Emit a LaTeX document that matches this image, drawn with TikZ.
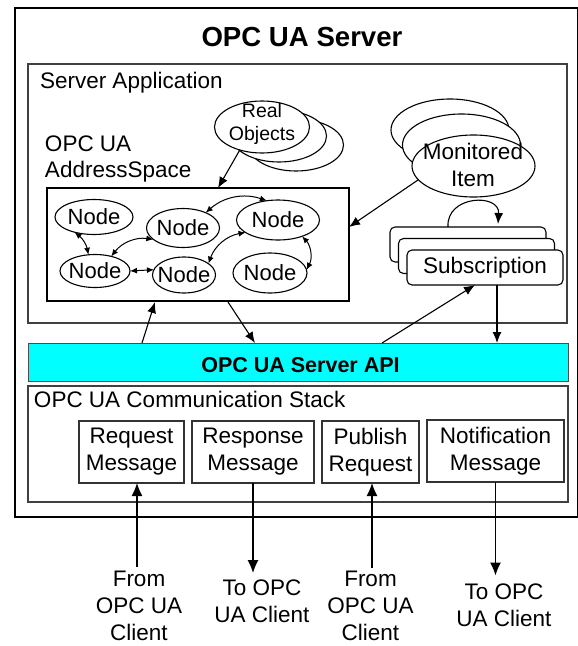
\documentclass[tikz,border=0pt]{standalone}
\usepackage{fontspec}
\setmainfont{Liberation Sans}
\usetikzlibrary{arrows.meta,shapes.geometric,calc}
\definecolor{apicyan}{RGB}{0,255,255}
\begin{document}
\begin{tikzpicture}[x=1pt,y=-1pt,
  every node/.style={inner sep=0pt, outer sep=0pt},
  lbl/.style={font=\fontsize{22.5}{27}\selectfont, align=center},
  box/.style={draw=black, line width=1.2pt},
  gbox/.style={draw=black!75, line width=1.2pt},
  mbox/.style={draw=black!80, line width=1.5pt, lbl},
  nd/.style={ellipse, draw, line width=1.1pt, fill=white, inner xsep=-30pt, font=\fontsize{22}{26}\selectfont},
  ell/.style={ellipse, draw, line width=1.1pt, fill=white},
  rbox/.style={draw, line width=1.1pt, fill=white, rounded corners=5pt},
  arr/.style={-{Latex[length=11pt,width=9pt]}, line width=1.1pt},
  darr/.style={{Latex[length=7pt,width=6pt]}-{Latex[length=7pt,width=6pt]}, line width=1pt},
  barr/.style={-{Latex[length=13pt,width=11pt]}, line width=1.3pt}]
\useasboundingbox (0,0) rectangle (578,646);
\fill[white] (0,0) rectangle (578,646);

% outer server box
\node[box, line width=2.2pt, minimum width=563pt, minimum height=509pt] (outer) at (296.5,262.5) {};
\node[font=\bfseries\fontsize{27.6}{32}\selectfont, anchor=base] (title) at (302,46) {OPC UA Server};

% server application
\node[gbox, minimum width=539pt, minimum height=259pt] (app) at (297.5,193.5) {};
\node[lbl, anchor=base west] (applbl) at (40,88) {Server Application};

% address space
\node[font=\fontsize{22.5}{26}\selectfont, align=left, anchor=west] (aslbl) at (45,159.4) {OPC UA\\AddressSpace};
\node[box, minimum width=302pt, minimum height=113pt] (as) at (198,244.5) {};

\node[nd, minimum width=78pt, minimum height=35pt] (n1) at (94,217) {Node};
\node[nd, minimum width=73pt, minimum height=39pt] (n2) at (183,228) {Node};
\node[nd, minimum width=83pt, minimum height=40pt] (n3) at (278,220) {Node};
\node[nd, minimum width=70pt, minimum height=33pt] (n4) at (95,271) {Node};
\node[nd, minimum width=63pt, minimum height=36pt] (n5) at (184,275) {Node};
\node[nd, minimum width=74pt, minimum height=40pt] (n6) at (270,273) {Node};

\draw[darr] (n1.218) to[bend left=20] (n4.112);
\draw[darr] (n4.42) to[bend left=30] (n2.201);
\draw[darr] (n4.east) -- (n5.170);
\draw[darr] (n2.34) to[bend left=30] (n3.120);
\draw[darr] (n5.25) to[bend left=30] (n3.201);
\draw[darr] (n3.326) to[bend left=35] (n6.5);

% real objects
\node[ell, minimum width=95pt, minimum height=52pt] (ro3) at (296,145) {};
\node[ell, minimum width=95pt, minimum height=52pt] (ro2) at (279,136) {};
\node[ell, minimum width=95pt, minimum height=52pt] (ro) at (262,127) {};
\node[font=\fontsize{19.5}{23}\selectfont, align=center] (rolbl) at (262,123.5) {Real\\Objects};
\coordinate (asin1) at (218,188);
\draw[arr] (ro.226) -- (asin1);

% monitored item
\node[ell, minimum width=118pt, minimum height=62pt] (mi3) at (450,130) {};
\node[ell, minimum width=118pt, minimum height=62pt] (mi2) at (461.5,145) {};
\node[ell, minimum width=123pt, minimum height=62pt] (mi) at (473.5,166) {};
\node[lbl] (milbl) at (473,165) {Monitored\\Item};
\coordinate (asin2) at (349,227);
\draw[arr] (mi.194) -- (asin2);

% subscription
\node[rbox, minimum width=156pt, minimum height=35pt] (s3) at (468,244.5) {};
\node[rbox, minimum width=156pt, minimum height=35pt] (s2) at (476.5,256) {};
\node[rbox, minimum width=156pt, minimum height=35pt, lbl] (s) at (485,267.5) {Subscription};
\coordinate (lpa) at (448,227);
\coordinate (lpb) at (498,224);
\draw[arr] (lpa) .. controls (446,195) and (500,193) .. (lpb);

% server API
\node[fill=apicyan, draw=black!70, line width=1pt, minimum width=540pt, minimum height=38pt] (api) at (298,362) {};
\node[font=\bfseries\fontsize{21.5}{26}\selectfont, anchor=base] (apilbl) at (300.5,372.3) {OPC UA Server API};

\coordinate (p1) at (142,343);
\coordinate (q1) at (155,302);
\coordinate (p2) at (228,302);
\coordinate (q2) at (255,343);
\coordinate (p3) at (382,343);
\draw[arr] (p1) -- (q1);
\draw[arr] (p2) -- (q2);
\draw[arr] (p3) -- ([xshift=-10pt]s.south);
\draw[arr] ([xshift=12pt]s.south) -- ([xshift=12pt]s.south |- api.north);

% communication stack
\node[gbox, minimum width=540pt, minimum height=116pt] (comm) at (298,444) {};
\node[lbl, anchor=base west] (commlbl) at (34,407) {OPC UA Communication Stack};

\node[mbox, minimum width=105pt, minimum height=62pt] (req) at (131.5,452) {Request\\Message};
\node[mbox, minimum width=122pt, minimum height=62pt] (resp) at (253,452) {Response\\Message};
\node[mbox, minimum width=97pt, minimum height=62pt] (pub) at (370.5,452) {Publish\\Request};
\node[mbox, minimum width=137pt, minimum height=62pt] (notif) at (495.5,451) {Notification\\Message};

% clients
\node[lbl] (from1) at (139,606) {From\\OPC UA\\Client};
\node[lbl] (to1) at (262,601.5) {To OPC\\UA Client};
\node[lbl] (from2) at (370.5,606) {From\\OPC UA\\Client};
\node[lbl] (to2) at (504,605) {To OPC\\UA Client};

\draw[barr, shorten <=4pt] ([xshift=-2pt]from1.north) -- ([xshift=-2pt]from1.north |- req.south);
\draw[barr, shorten >=7pt] (resp.south) -- (resp.south |- to1.north);
\draw[barr, shorten <=3pt] ([xshift=1.5pt]from2.north) -- ([xshift=1.5pt]from2.north |- pub.south);
\draw[barr, shorten >=8pt] (notif.south) -- (notif.south |- to2.north);
\end{tikzpicture}
\end{document}
